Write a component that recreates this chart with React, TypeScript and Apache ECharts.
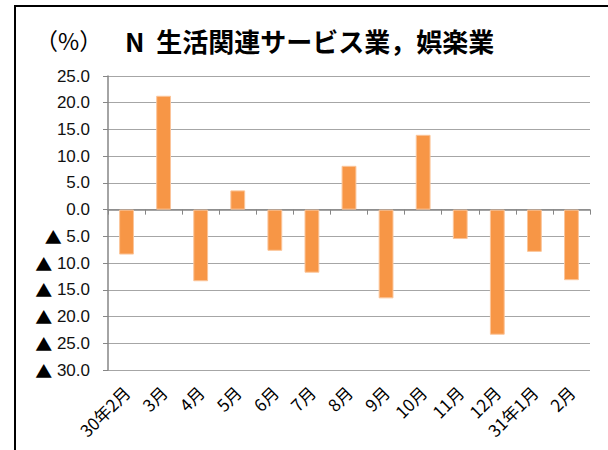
import React, { useEffect, useRef } from "react";
import * as echarts from "echarts";

const categories = ["30年2月", "3月", "4月", "5月", "6月", "7月", "8月", "9月", "10月", "11月", "12月", "31年1月", "2月"];
const values = [-8.4, 21.3, -13.4, 3.6, -7.7, -11.8, 8.2, -16.6, 14.0, -5.5, -23.4, -7.9, -13.2];
const titleText = "N  生活関連サービス業，娯楽業";
const unitText = "（%）";

export default function App() {
  const ref = useRef<HTMLDivElement>(null);
  useEffect(() => {
    const chart = echarts.init(ref.current!, null, { renderer: "svg" });
    const font = "'Noto Sans CJK JP', 'Liberation Sans', sans-serif";
    const numFont = "'Liberation Sans', 'Noto Sans CJK JP', sans-serif";
    chart.setOption({
      animation: false,
      textStyle: { fontFamily: font },
      graphic: [
        {
          type: "polyline",
          shape: { points: [[15, 460], [15, 6], [620, 6]] },
          style: { stroke: "#000", lineWidth: 2, fill: null },
        },
        {
          type: "text",
          left: 35,
          top: 28,
          style: { text: unitText, font: `normal 23px ${font}`, fill: "#000" },
        },
        {
          type: "text",
          left: 125,
          top: 27,
          style: { text: titleText, font: `bold 26px ${font}`, fill: "#000" },
        },
      ],
      grid: { left: 108, right: 18, top: 76, bottom: 80 },
      xAxis: {
        type: "category",
        data: categories,
        axisLine: { onZero: true, lineStyle: { color: "#868686", width: 1.5 } },
        axisTick: { show: true, length: 5, lineStyle: { color: "#868686" } },
        axisLabel: {
          rotate: 45,
          interval: 0,
          fontSize: 17,
          color: "#000",
          fontFamily: font,
          margin: 19,
        },
        position: "bottom",
      },
      yAxis: {
        type: "value",
        min: -30,
        max: 25,
        interval: 5,
        axisLine: { show: true, lineStyle: { color: "#868686", width: 1.5 } },
        axisTick: { show: true, length: 5, lineStyle: { color: "#868686" } },
        splitLine: { lineStyle: { color: "#a6a6a6", width: 1.2 } },
        axisLabel: {
          fontSize: 17,
          color: "#111",
          margin: 18,
          fontFamily: numFont,
          formatter: (v: number) => (v < 0 ? "{t|▲} " + Math.abs(v).toFixed(1) : v.toFixed(1)),
          rich: {
            t: { fontSize: 17, fontFamily: "'Noto Sans CJK JP', sans-serif", color: "#000" },
          },
        },
      },
      series: [
        {
          type: "bar",
          data: values,
          barWidth: "40%",
          itemStyle: { color: "#f79646", borderColor: "#fbc59a", borderWidth: 1 },
        },
      ],
    });
    return () => chart.dispose();
  }, []);
  return <div ref={ref} style={{ width: 608, height: 450, position: "absolute", left: 0, top: 0 }} />;
}
